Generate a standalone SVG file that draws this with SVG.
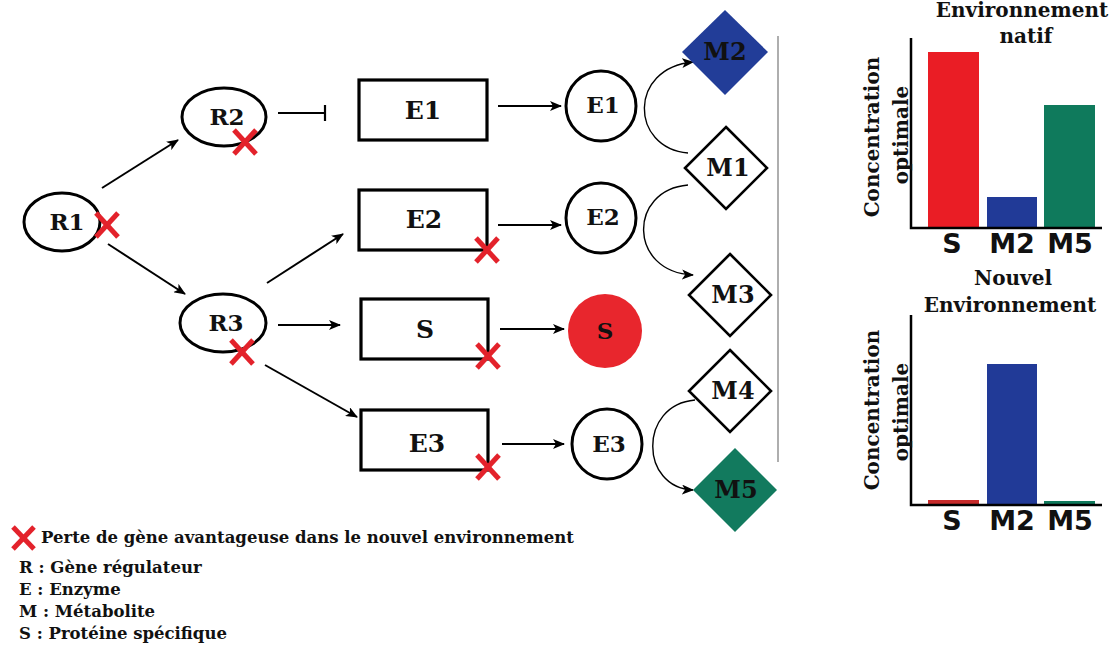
<svg xmlns="http://www.w3.org/2000/svg" width="1116" height="648" viewBox="0 0 1116 648">
<defs>
<style>
.lbl{font-family:"DejaVu Serif","Liberation Serif",serif;font-weight:bold;fill:#111;text-anchor:middle}
.sans{font-family:"DejaVu Sans","Liberation Sans",sans-serif;font-weight:bold;fill:#111;text-anchor:middle}
.ell{fill:#fff;stroke:#000;stroke-width:3}
.box{fill:#fff;stroke:#000;stroke-width:3.2}
.dia{stroke:#000;stroke-width:2.6}
.arr{fill:none;stroke:#000;stroke-width:2;marker-end:url(#ah)}
.crv{fill:none;stroke:#000;stroke-width:1.4;marker-end:url(#ah)}
.x{stroke:#e3222b;stroke-width:5;stroke-linecap:butt}
.axis{stroke:#000;stroke-width:2.5;fill:none}
.leg{font-family:"DejaVu Serif","Liberation Serif",serif;font-weight:bold;fill:#111;font-size:16.5px}
</style>
<marker id="ah" viewBox="0 0 12 10" refX="11" refY="5" markerWidth="12" markerHeight="10" markerUnits="userSpaceOnUse" orient="auto">
<path d="M0,0 L12,5 L0,10 L3,5 z" fill="#000"/>
</marker>
<g id="xm"><line class="x" x1="-11" y1="-12" x2="11" y2="12"/><line class="x" x1="11" y1="-12" x2="-11" y2="12"/></g>
</defs>
<rect width="1116" height="648" fill="#fff"/>

<g id="connectors">
<line class="arr" x1="102" y1="188" x2="178" y2="140"/>
<line class="arr" x1="108" y1="244" x2="185" y2="294"/>
<line x1="278" y1="113" x2="325" y2="113" stroke="#000" stroke-width="2"/>
<line x1="325" y1="105" x2="325" y2="121" stroke="#000" stroke-width="2.2"/>
<line class="arr" x1="267" y1="283" x2="343" y2="234"/>
<line class="arr" x1="278" y1="325" x2="340" y2="325"/>
<line class="arr" x1="265" y1="365" x2="357" y2="417"/>
<line class="arr" x1="498" y1="106" x2="561" y2="106"/>
<line class="arr" x1="498" y1="225" x2="561" y2="225"/>
<line class="arr" x1="500" y1="329" x2="564" y2="329"/>
<line class="arr" x1="502" y1="444" x2="564" y2="444"/>
<path class="crv" d="M688,153 C630,148 628,68 693,62"/>
<path class="crv" d="M688,185 C628,190 628,272 693,275"/>
<path class="crv" d="M695,400 C638,405 640,488 693,490"/>
<line x1="778" y1="36" x2="778" y2="462" stroke="#9a9a9a" stroke-width="1.6"/>
</g>

<g id="R1"><ellipse class="ell" cx="62" cy="222" rx="38" ry="29"/><text class="lbl" x="67" y="230" font-size="23">R1</text></g>
<g id="R2"><ellipse class="ell" cx="224" cy="117" rx="42" ry="29"/><text class="lbl" x="227" y="125" font-size="23">R2</text></g>
<g id="R3"><ellipse class="ell" cx="223" cy="323" rx="43" ry="29"/><text class="lbl" x="226" y="331" font-size="23">R3</text></g>

<g id="gE1"><rect class="box" x="359" y="80" width="128" height="60"/><text class="lbl" x="423" y="119" font-size="25">E1</text></g>
<g id="gE2"><rect class="box" x="359" y="190" width="128" height="60"/><text class="lbl" x="424" y="228" font-size="25">E2</text></g>
<g id="gS"><rect class="box" x="361" y="299" width="127" height="60"/><text class="lbl" x="425" y="338" font-size="25">S</text></g>
<g id="gE3"><rect class="box" x="361" y="410" width="127" height="60"/><text class="lbl" x="427" y="452" font-size="25">E3</text></g>

<g id="pE1"><circle class="ell" cx="601" cy="106" r="35"/><text class="lbl" x="603" y="113" font-size="23">E1</text></g>
<g id="pE2"><circle class="ell" cx="601" cy="218" r="35"/><text class="lbl" x="603" y="225" font-size="23">E2</text></g>
<g id="pS"><circle cx="605" cy="331" r="37" fill="#e8262d"/><text class="lbl" x="605" y="339" font-size="23">S</text></g>
<g id="pE3"><circle class="ell" cx="607" cy="444" r="35"/><text class="lbl" x="609" y="452" font-size="23">E3</text></g>

<g id="M2"><polygon points="725,10 768,52 725,95 682,52" fill="#223d98"/><text class="lbl" x="725" y="60" font-size="24">M2</text></g>
<g id="M1"><polygon class="dia" points="726,127 767,168 726,209 685,168" fill="#fff"/><text class="lbl" x="728" y="176" font-size="24">M1</text></g>
<g id="M3"><polygon class="dia" points="730,254 771,295 730,336 689,295" fill="#fff"/><text class="lbl" x="733" y="303" font-size="24">M3</text></g>
<g id="M4"><polygon class="dia" points="730,350 771,391 730,432 689,391" fill="#fff"/><text class="lbl" x="733" y="399" font-size="24">M4</text></g>
<g id="M5"><polygon points="735,448 777,490 735,532 693,490" fill="#127a5e"/><text class="lbl" x="736" y="498" font-size="24">M5</text></g>

<g id="crosses">
<use href="#xm" x="107" y="225"/>
<use href="#xm" x="245" y="142"/>
<use href="#xm" x="242" y="352"/>
<use href="#xm" x="487" y="250"/>
<use href="#xm" x="488" y="356"/>
<use href="#xm" x="488" y="467"/>
</g>

<g id="chart1">
<text class="lbl" x="1022" y="17" font-size="20">Environnement</text>
<text class="lbl" x="1026" y="43" font-size="20">natif</text>
<rect x="928" y="52" width="51" height="176" fill="#ea1d25"/>
<rect x="987" y="197" width="50" height="31" fill="#213a97"/>
<rect x="1044" y="105" width="51" height="123" fill="#0f7a5c"/>
<polyline class="axis" points="911,38 911,228 1102,228"/>
<text class="lbl" transform="translate(879,137) rotate(-90)" font-size="20">Concentration</text>
<text class="lbl" transform="translate(908,135) rotate(-90)" font-size="20">optimale</text>
<text class="sans" x="952" y="253" font-size="27">S</text>
<text class="sans" x="1012" y="253" font-size="27">M2</text>
<text class="sans" x="1070" y="253" font-size="27">M5</text>
</g>

<g id="chart2">
<text class="lbl" x="1013" y="285" font-size="20">Nouvel</text>
<text class="lbl" x="1010" y="312" font-size="20">Environnement</text>
<rect x="928" y="500" width="51" height="5" fill="#c62a2a"/>
<rect x="987" y="364" width="50" height="141" fill="#213a97"/>
<rect x="1044" y="501" width="51" height="4" fill="#0f7a5c"/>
<polyline class="axis" points="911,315 911,505 1102,505"/>
<text class="lbl" transform="translate(879,410) rotate(-90)" font-size="20">Concentration</text>
<text class="lbl" transform="translate(908,412) rotate(-90)" font-size="20">optimale</text>
<text class="sans" x="952" y="530" font-size="27">S</text>
<text class="sans" x="1012" y="530" font-size="27">M2</text>
<text class="sans" x="1070" y="530" font-size="27">M5</text>
</g>

<g id="legend">
<line class="x" x1="13" y1="527" x2="34" y2="549"/><line class="x" x1="34" y1="527" x2="13" y2="549"/>
<text class="leg" x="41" y="543">Perte de gène avantageuse dans le nouvel environnement</text>
<text class="leg" x="19" y="573">R : Gène régulateur</text>
<text class="leg" x="19" y="595">E : Enzyme</text>
<text class="leg" x="19" y="617">M : Métabolite</text>
<text class="leg" x="19" y="639">S : Protéine spécifique</text>
</g>
</svg>
